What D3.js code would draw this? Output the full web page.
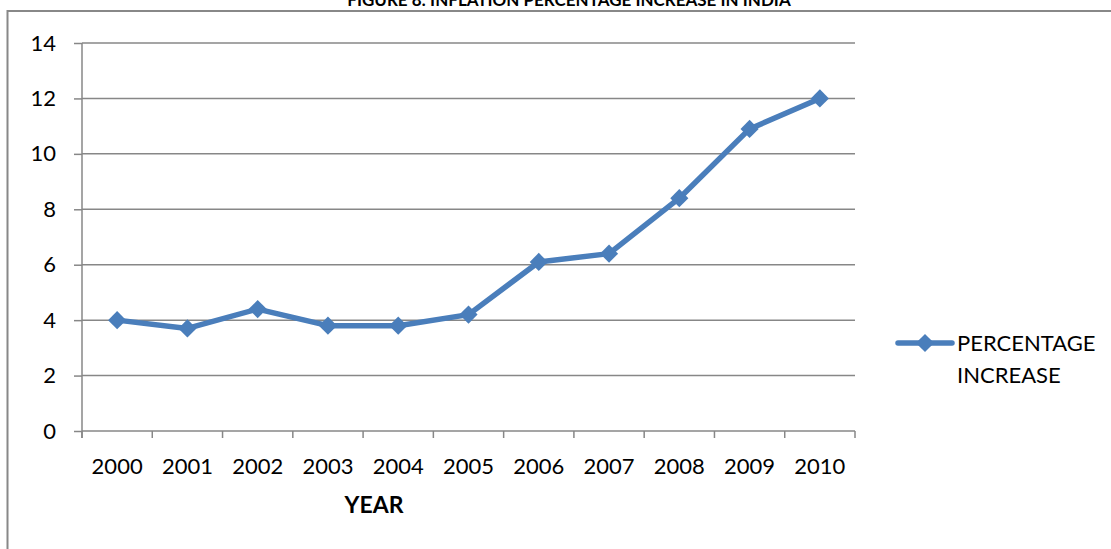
<!DOCTYPE html>
<html>
<head>
<meta charset="utf-8">
<script src="https://cdn.jsdelivr.net/npm/d3@7"></script>
<style>
  html, body { margin: 0; padding: 0; background: #fff; }
  svg { display: block; font-family: Lato, "Open Sans", sans-serif; }
</style>
</head>
<body>
<svg id="chart" width="1111" height="549"></svg>
<script>
// Inflation percentage increase by year
const years = ["2000", "2001", "2002", "2003", "2004", "2005", "2006", "2007", "2008", "2009", "2010"];
const percentIncrease = [4.0, 3.7, 4.4, 3.8, 3.8, 4.2, 6.1, 6.4, 8.4, 10.9, 12.0];
const yTicks = [0, 2, 4, 6, 8, 10, 12, 14];
const titleText = "FIGURE 8: INFLATION PERCENTAGE INCREASE IN INDIA";
const xAxisTitle = "YEAR";
const legendLines = ["PERCENTAGE", "INCREASE"];

const svg = d3.select("#chart");
const W = 1111, H = 549;
const plot = { left: 82, right: 855, top: 43, bottom: 431 };
const gridColor = "#878787";
const lineColor = "#4a7ebb";
const textColor = "#000";

// Outer chart frame (only its top and left edges fall inside the view)
svg.append("path")
  .attr("d", `M7.5,${H} L7.5,11 L${W},11`)
  .attr("fill", "none")
  .attr("stroke", "#888")
  .attr("stroke-width", 2);

// Title above the frame
svg.append("text")
  .attr("x", 569)
  .attr("y", 6)
  .attr("text-anchor", "middle")
  .attr("font-size", 17)
  .attr("font-weight", "bold")
  .attr("fill", textColor)
  .text(titleText);

const x = d3.scaleBand().domain(years).range([plot.left, plot.right]).paddingInner(0).paddingOuter(0);
const y = d3.scaleLinear().domain([0, 14]).range([plot.bottom, plot.top]);

// Horizontal gridlines
svg.append("g")
  .selectAll("line")
  .data(yTicks)
  .join("line")
  .attr("x1", plot.left).attr("x2", plot.right)
  .attr("y1", d => y(d)).attr("y2", d => y(d))
  .attr("stroke", gridColor)
  .attr("stroke-width", 1.5);

// Y axis
const yAxis = svg.append("g")
  .attr("transform", `translate(${plot.left},0)`)
  .call(d3.axisLeft(y).tickValues(yTicks).tickSize(8).tickPadding(18).tickFormat(d3.format("d")));
yAxis.select(".domain").attr("stroke", gridColor).attr("stroke-width", 1.5)
  .attr("d", `M0,${plot.top}V${plot.bottom + 7}`);
yAxis.selectAll(".tick line").attr("stroke", gridColor).attr("stroke-width", 1.5);
yAxis.selectAll(".tick text")
  .attr("font-size", 22)
  .attr("fill", textColor)
  .attr("font-family", "Lato, 'Open Sans', sans-serif");

// X axis: ticks fall on the category boundaries
const boundaries = years.map(d => x(d)).concat([plot.right]);
svg.append("g")
  .selectAll("line")
  .data(boundaries)
  .join("line")
  .attr("x1", d => d).attr("x2", d => d)
  .attr("y1", plot.bottom).attr("y2", plot.bottom + 7)
  .attr("stroke", gridColor)
  .attr("stroke-width", 1.5);

svg.append("g")
  .selectAll("text")
  .data(years)
  .join("text")
  .attr("x", d => x(d) + x.bandwidth() / 2)
  .attr("y", 474)
  .attr("text-anchor", "middle")
  .attr("font-size", 22)
  .attr("fill", textColor)
  .text(d => d);

svg.append("text")
  .attr("x", 374)
  .attr("y", 513)
  .attr("text-anchor", "middle")
  .attr("font-size", 23)
  .attr("font-weight", "bold")
  .attr("fill", textColor)
  .text(xAxisTitle);

// Series line and diamond markers
const pts = years.map((yr, i) => ({ yr, v: percentIncrease[i] }));
const line = d3.line().x(d => x(d.yr) + x.bandwidth() / 2).y(d => y(d.v));

svg.append("path")
  .datum(pts)
  .attr("d", line)
  .attr("fill", "none")
  .attr("stroke", lineColor)
  .attr("stroke-width", 5.5)
  .attr("stroke-linejoin", "round")
  .attr("stroke-linecap", "round");

const marker = d3.symbol().type(d3.symbolSquare).size(165);
svg.append("g")
  .selectAll("path")
  .data(pts)
  .join("path")
  .attr("transform", d => `translate(${x(d.yr) + x.bandwidth() / 2},${y(d.v)}) rotate(45)`)
  .attr("d", marker)
  .attr("fill", lineColor);

// Legend
const lg = svg.append("g").attr("transform", "translate(898,343)");
lg.append("line")
  .attr("x1", 0).attr("x2", 54)
  .attr("y1", 0).attr("y2", 0)
  .attr("stroke", lineColor)
  .attr("stroke-width", 5.5)
  .attr("stroke-linecap", "round");
lg.append("path")
  .attr("transform", "translate(27,0) rotate(45)")
  .attr("d", marker)
  .attr("fill", lineColor);
lg.selectAll("text")
  .data(legendLines)
  .join("text")
  .attr("x", 59)
  .attr("y", (d, i) => 8 + i * 32)
  .attr("font-size", 22)
  .attr("fill", textColor)
  .text(d => d);
</script>
</body>
</html>
